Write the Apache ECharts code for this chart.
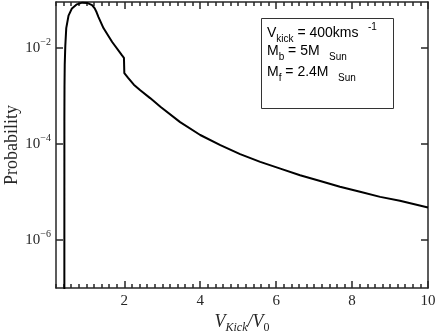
<!DOCTYPE html>
<html>
<head>
<meta charset="utf-8">
<script src="https://cdn.jsdelivr.net/npm/echarts@6/dist/echarts.min.js"></script>
<style>
  html, body { margin: 0; padding: 0; background: #fff; }
  #chart { width: 436px; height: 333px; }
</style>
</head>
<body>
<div id="chart"></div>
<script>
// curve: V_kick/V_0 and probability
const vRatio = [0.420, 0.421, 0.424, 0.430, 0.445, 0.47, 0.53, 0.62, 0.75, 0.89, 1.02, 1.15, 1.22,
  1.27, 1.32, 1.45, 1.68, 1.94, 1.99, 2.00, 2.10, 2.25, 2.42, 2.68, 2.95, 3.47, 4.00, 4.53,
  5.05, 5.58, 6.11, 6.63, 7.16, 7.68, 8.21, 8.74, 9.26, 10.0];
const prob = [1e-8, 3.2e-4, 1.6e-3, 4.5e-3, 1.12e-2, 2.63e-2, 4.79e-2, 6.76e-2, 8.22e-2, 8.91e-2,
  8.81e-2, 7.94e-2, 6.76e-2, 5.62e-2, 4.47e-2, 2.63e-2, 1.35e-2, 7.08e-3, 6.31e-3, 3.02e-3,
  2.40e-3, 1.74e-3, 1.33e-3, 9.12e-4, 6.03e-4, 2.88e-4, 1.55e-4, 9.55e-5, 6.17e-5, 4.27e-5,
  3.09e-5, 2.24e-5, 1.70e-5, 1.29e-5, 1.02e-5, 7.94e-6, 6.61e-6, 4.79e-6];

const xMajorTicks = [2, 4, 6, 8, 10];
const yMajorTicks = [1e-6, 1e-4, 1e-2];

const frame = '#262626';
const serif = 'Liberation Serif';
const sans = 'Liberation Sans';

const chart = echarts.init(document.getElementById('chart'));

function xAx(position, major, labels) {
  return {
    type: 'value',
    position: position,
    min: 0.2,
    max: 10,
    interval: 0.2,
    axisLine: { show: major, lineStyle: { color: frame, width: 1.5 } },
    axisTick: major
      ? { show: true, inside: true, length: 7, customValues: xMajorTicks, lineStyle: { color: frame, width: 1.5 } }
      : { show: true, inside: true, length: 4, lineStyle: { color: frame, width: 1.5 } },
    axisLabel: labels
      ? { show: true, customValues: xMajorTicks, color: frame, fontFamily: serif, fontSize: 15, margin: 6 }
      : { show: false },
    splitLine: { show: false }
  };
}

function yAx(position, labels) {
  return {
    type: 'log',
    logBase: 10,
    position: position,
    min: 1e-7,
    max: 0.092,
    axisLine: { show: true, lineStyle: { color: frame, width: 1.5 } },
    axisTick: { show: true, inside: true, length: 7, customValues: yMajorTicks, lineStyle: { color: frame, width: 1.5 } },
    axisLabel: labels ? {
      show: true,
      customValues: yMajorTicks,
      margin: 5,
      formatter: v => '{b|10}{e|\u2212' + Math.round(-Math.log10(v)) + '}',
      rich: {
        b: { fontFamily: serif, fontSize: 15, color: frame, lineHeight: 22, verticalAlign: 'middle' },
        e: { fontFamily: serif, fontSize: 10, color: frame, lineHeight: 10, verticalAlign: 'top' }
      }
    } : { show: false },
    splitLine: { show: false },
    name: labels ? 'Probability' : '',
    nameLocation: 'middle',
    nameGap: 35,
    nameMoveOverlap: false,
    nameTextStyle: { fontFamily: serif, fontSize: 18, color: frame }
  };
}

const xs = [xAx('bottom', true, true), xAx('bottom', false, false), xAx('top', true, false), xAx('top', false, false)];
xs[0].name = '{v|V}{s|Kick}{v|/V}{z|0}';
xs[0].nameLocation = 'middle';
xs[0].nameGap = 22;
xs[0].nameMoveOverlap = false;
xs[0].nameTextStyle = {
  rich: {
    v: { fontFamily: serif, fontStyle: 'italic', fontSize: 18, color: frame, lineHeight: 24, verticalAlign: 'middle' },
    s: { fontFamily: serif, fontStyle: 'italic', fontSize: 12, color: frame, lineHeight: 12, verticalAlign: 'bottom' },
    z: { fontFamily: serif, fontSize: 12, color: frame, lineHeight: 12, verticalAlign: 'bottom' }
  }
};

const boxRich = {
  n: { fontFamily: sans, fontSize: 14, fill: '#000', lineHeight: 22, verticalAlign: 'middle' },
  s: { fontFamily: sans, fontSize: 10, fill: '#000', lineHeight: 10, verticalAlign: 'bottom' },
  p: { fontFamily: sans, fontSize: 10, fill: '#000', lineHeight: 10, verticalAlign: 'top' }
};

chart.setOption({
  animation: false,
  grid: { left: 56, right: 8, top: 2, bottom: 45, outerBoundsMode: 'none', containLabel: false },
  xAxis: xs,
  yAxis: [yAx('left', true), yAx('right', false)],
  series: [{
    type: 'line',
    data: vRatio.map((v, i) => [v, prob[i]]),
    showSymbol: false,
    lineStyle: { color: '#000', width: 2 },
    clip: true
  }],
  graphic: [
    { type: 'rect', left: 261, top: 18, shape: { width: 132, height: 90 },
      style: { fill: '#fff', stroke: '#333', lineWidth: 1 } },
    { type: 'text', left: 267, top: 22,
      style: { text: '{n|V}{s|kick}{n| = 400kms }{p|  -1}', rich: boxRich } },
    { type: 'text', left: 267, top: 44,
      style: { text: '{n|M}{s|b}{n| = 5M }{s|  Sun}', rich: boxRich } },
    { type: 'text', left: 267, top: 65,
      style: { text: '{n|M}{s|f}{n| = 2.4M }{s|  Sun}', rich: boxRich } }
  ]
});
</script>
</body>
</html>
